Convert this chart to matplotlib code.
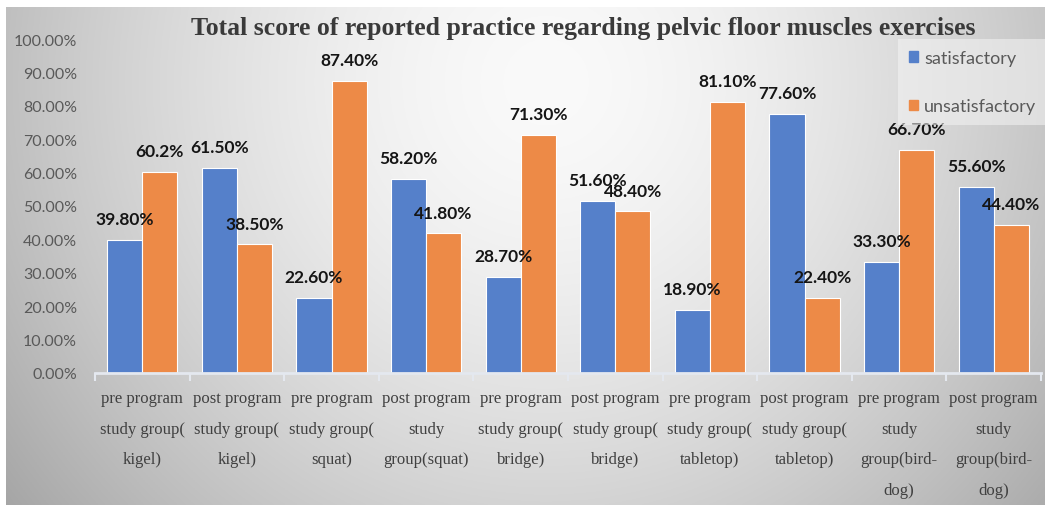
import numpy as np
import matplotlib
matplotlib.use("Agg")
import matplotlib.pyplot as plt
from matplotlib.patches import Patch
from matplotlib.ticker import PercentFormatter

categories = [
    "pre program\nstudy group(\nkigel)",
    "post program\nstudy group(\nkigel)",
    "pre program\nstudy group(\nsquat)",
    "post program\nstudy\ngroup(squat)",
    "pre program\nstudy group(\nbridge)",
    "post program\nstudy group(\nbridge)",
    "pre program\nstudy group(\ntabletop)",
    "post program\nstudy group(\ntabletop)",
    "pre program\nstudy\ngroup(bird-\ndog)",
    "post program\nstudy\ngroup(bird-\ndog)",
]
satisfactory = [0.398, 0.615, 0.226, 0.582, 0.287, 0.516, 0.189, 0.776, 0.333, 0.556]
unsatisfactory = [0.602, 0.385, 0.874, 0.418, 0.713, 0.484, 0.811, 0.224, 0.667, 0.444]
sat_labels = ["39.80%", "61.50%", "22.60%", "58.20%", "28.70%",
              "51.60%", "18.90%", "77.60%", "33.30%", "55.60%"]
unsat_labels = ["60.2%", "38.50%", "87.40%", "41.80%", "71.30%",
                "48.40%", "81.10%", "22.40%", "66.70%", "44.40%"]

blue = "#5580ca"
orange = "#ed8a47"
gray_text = "#595959"

W, H = 1045, 506
fig = plt.figure(figsize=(W / 100, H / 100), dpi=100, facecolor="white")

# gray gradient background panel
bg = fig.add_axes([6 / W, 0, 1 - 6 / W, 1 - 8 / H], zorder=-5)
yy, xx = np.mgrid[0:1:300j, 0:1:600j]
d = np.sqrt(((xx - 0.52) / 0.52) ** 2 + ((yy - 0.15) / 1.1) ** 2)
shade = np.clip(250 - 58 * d ** 1.6, 150, 250) / 255.0
bg.imshow(np.dstack([shade] * 3), aspect="auto", extent=[0, 1, 1, 0])
bg.set_axis_off()

ax = fig.add_axes([95 / W, 1 - 374 / H, (1041 - 95) / W, (374 - 40) / H])
ax.set_facecolor("none")

x = np.arange(len(categories))
w = 0.37
b1 = ax.bar(x - w / 2, satisfactory, w, color=blue, edgecolor="white", linewidth=0.8, label="satisfactory")
b2 = ax.bar(x + w / 2, unsatisfactory, w, color=orange, edgecolor="white", linewidth=0.8, label="unsatisfactory")

for bars, labs in ((b1, sat_labels), (b2, unsat_labels)):
    for bar, lab in zip(bars, labs):
        ax.annotate(lab, (bar.get_x() + bar.get_width() / 2, bar.get_height()),
                    xytext=(0, 15), textcoords="offset points", ha="center", va="center",
                    fontsize=12.5, fontweight="bold", family="Lato", color="#151515")

ax.set_xlim(-0.5, len(categories) - 0.5)
ax.set_ylim(0, 1.0)
ax.set_yticks(np.arange(0, 1.01, 0.1))
ax.yaxis.set_major_formatter(PercentFormatter(1.0, decimals=2))
ax.tick_params(axis="y", length=0, pad=13, labelsize=11.5, labelcolor=gray_text)
for t in ax.get_yticklabels():
    t.set_family("Lato")

ax.set_xticks(x)
ax.set_xticklabels(categories, family="Liberation Serif", fontsize=12, color="#404040",
                   linespacing=2.2)
ax.set_xticks(np.arange(-0.5, len(categories), 1), minor=True)
ax.tick_params(axis="x", which="major", length=0, pad=12.5)
ax.tick_params(axis="x", which="minor", length=6, width=1.5, color="#e4e8ef")

for s in ("top", "right", "left"):
    ax.spines[s].set_visible(False)
ax.spines["bottom"].set_color("#e4e8ef")
ax.spines["bottom"].set_linewidth(2)

fig.text(583 / W, 1 - 28 / H,
         "Total score of reported practice regarding pelvic floor muscles exercises",
         ha="center", va="center", family="Liberation Serif", fontweight="bold",
         fontsize=18.5, color="#3a3a3a")

handles = [Patch(color=blue, label="satisfactory"), Patch(color=orange, label="unsatisfactory")]
leg = fig.legend(handles=handles, loc="upper right", bbox_to_anchor=(1056 / W, 1 - 31 / H),
                 prop={"family": "Lato", "size": 13}, labelcolor=gray_text,
                 handlelength=0.5, handleheight=0.5, handletextpad=0.35,
                 labelspacing=1.8, borderpad=0.6, frameon=True, fancybox=False)
leg.get_frame().set_facecolor("#f4f4f4")
leg.get_frame().set_alpha(0.55)
leg.get_frame().set_edgecolor("none")

fig.savefig("out.png", dpi=100, facecolor=fig.get_facecolor())
